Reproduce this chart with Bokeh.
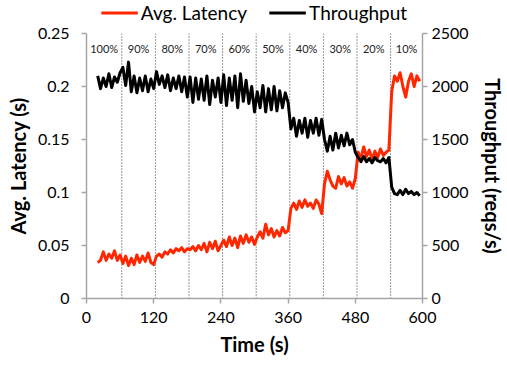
from bokeh.plotting import figure
from bokeh.layouts import column
from bokeh.models import (Range1d, LinearAxis, FixedTicker, CustomJSTickFormatter,
                          Legend, LegendItem, ColumnDataSource)
from bokeh.embed import file_html
from bokeh.resources import INLINE
from bokeh.core.properties import value

# ---- data -------------------------------------------------------------
time_s = list(range(20, 600, 5))

latency_s = [
    0.034, 0.036, 0.044, 0.036, 0.042, 0.038, 0.045, 0.036, 0.041,
    0.033, 0.040, 0.031, 0.038, 0.032, 0.041, 0.034, 0.040, 0.035, 0.043, 0.034, 0.032,
    0.040, 0.042, 0.039, 0.044, 0.042, 0.046, 0.043, 0.047, 0.045, 0.048, 0.044, 0.047,
    0.046, 0.049, 0.045, 0.050, 0.046, 0.052, 0.044, 0.053, 0.047, 0.054, 0.045, 0.050,
    0.055, 0.049, 0.058, 0.050, 0.057, 0.048, 0.059, 0.052, 0.060, 0.053, 0.058, 0.051,
    0.058, 0.063, 0.057, 0.070, 0.060, 0.066, 0.058, 0.064, 0.059, 0.067, 0.062, 0.064,
    0.085, 0.090, 0.084, 0.092, 0.086, 0.093, 0.087, 0.090, 0.085, 0.093, 0.089, 0.080,
    0.108, 0.120, 0.112, 0.106, 0.104, 0.115, 0.108, 0.114, 0.106, 0.110, 0.104, 0.113,
    0.138, 0.132, 0.143, 0.134, 0.140, 0.131, 0.139, 0.133, 0.141, 0.135, 0.138, 0.140,
    0.195, 0.210, 0.205, 0.213, 0.200, 0.190, 0.205, 0.212, 0.200, 0.210, 0.205,
]

throughput_rps = [
    2100, 1980, 2080, 2000, 2120, 1990, 2090, 2040, 2130,
    2180, 2010, 2230, 1950, 2100, 1940, 2080, 1960, 2100, 1950, 2070, 1980,
    2140, 2020, 2100, 1990, 2110, 1960, 2080, 1980, 2100, 1950, 2090, 1900,
    2090, 1850, 2080, 1880, 2070, 1870, 2100, 1830, 2060, 1900, 2080, 1850,
    2110, 1820, 2080, 1870, 2100, 1800, 2120, 1860, 2060, 1840, 2000, 1760,
    1950, 1800, 2010, 1760, 1980, 1780, 2000, 1770, 1960, 1800, 1940, 1850,
    1600, 1700, 1530, 1680, 1560, 1700, 1520, 1680, 1560, 1700, 1540, 1690,
    1500, 1390, 1530, 1400, 1560, 1420, 1540, 1440, 1560, 1450, 1500, 1380,
    1330, 1290, 1340, 1290, 1320, 1280, 1330, 1300, 1290, 1320, 1280, 1330,
    1050, 990, 980, 1020, 980, 1030, 990, 1010, 980, 1000, 970,
]

# load phases: boundaries (s) and the share of clients active in each
phase_bounds = [0, 63, 123, 183, 243, 303, 363, 423, 483, 543, 600]
phase_labels = ["100%", "90%", "80%", "70%", "60%", "50%", "40%", "30%", "20%", "10%"]

x_ticks = [0, 120, 240, 360, 480, 600]
lat_ticks = [0, 0.05, 0.1, 0.15, 0.2, 0.25]
tp_ticks = [0, 500, 1000, 1500, 2000, 2500]

# ---- styling ----------------------------------------------------------
FONT = "Lato"
AXIS_GREY = "#A6A6A6"
RED = "#FF2600"
W = 507
LEGEND_H = 24

src = ColumnDataSource(dict(t=time_s, lat=latency_s, tp=throughput_rps))

# ---- main chart -------------------------------------------------------
p = figure(width=W, height=366 - LEGEND_H, x_range=Range1d(0, 600), y_range=Range1d(0, 0.25),
           output_backend="svg", toolbar_location=None,
           min_border_left=86, min_border_right=84, min_border_top=9, min_border_bottom=68)
p.xgrid.visible = False
p.ygrid.visible = False
p.outline_line_color = None

p.extra_y_ranges = {"tp": Range1d(0, 2500)}
right_axis = LinearAxis(y_range_name="tp")
p.add_layout(right_axis, "right")


def style_axis(ax, ticks, title):
    ax.ticker = FixedTicker(ticks=ticks)
    ax.axis_label = title
    ax.axis_line_color = AXIS_GREY
    ax.axis_line_width = 1.5
    ax.major_tick_line_color = AXIS_GREY
    ax.major_tick_line_width = 1.5
    ax.major_tick_out = 5
    ax.major_tick_in = 0
    ax.minor_tick_out = 0
    ax.minor_tick_in = 0
    ax.major_label_text_font = FONT
    ax.major_label_text_font_size = "16px"
    ax.major_label_text_color = "#000000"
    ax.axis_label_text_font = FONT
    ax.axis_label_text_font_size = "20px"
    ax.axis_label_text_font_style = "bold"
    ax.axis_label_text_color = "#000000"


style_axis(p.xaxis[0], x_ticks, "Time (s)")
p.xaxis[0].major_label_standoff = 8
p.xaxis[0].axis_label_standoff = 6

style_axis(p.yaxis[0], lat_ticks, "Avg. Latency (s)")
p.yaxis[0].formatter = CustomJSTickFormatter(code="return String(Math.round(tick * 100) / 100);")
p.yaxis[0].major_label_standoff = 12
p.yaxis[0].axis_label_standoff = 5

style_axis(right_axis, tp_ticks, "Throughput (reqs/s)")
right_axis.major_label_standoff = 4
right_axis.axis_label_standoff = 9

# phase separators and phase labels
p.segment(x0=phase_bounds[1:-1], y0=0, x1=phase_bounds[1:-1], y1=0.25,
          line_color="#333333", line_width=1, line_dash="1 2")
mids = [(a + b) / 2 for a, b in zip(phase_bounds[:-1], phase_bounds[1:])]
p.text(x=mids, y=0.236, text=phase_labels, text_align="center", text_baseline="middle",
       text_font=value(FONT), text_font_size="11px", text_color="#222222")

# series
p.line("t", "lat", source=src, line_color=RED, line_width=3, line_join="round")
p.line("t", "tp", source=src, y_range_name="tp", line_color="#000000", line_width=3,
       line_join="round")

# ---- legend strip above the chart -------------------------------------
# the strip's own ranges keep its copies of the series out of view; only the
# legend keys are seen
lg = figure(width=W, height=LEGEND_H, x_range=Range1d(0, 1), y_range=Range1d(0, 1),
            output_backend="svg", toolbar_location=None, min_border=0)
lg.axis.visible = False
lg.xgrid.visible = False
lg.ygrid.visible = False
lg.outline_line_color = None
k_lat = lg.line("t", "lat", source=src, line_color=RED, line_width=3)
k_tp = lg.line("t", "tp", source=src, line_color="#000000", line_width=3)
legend = Legend(items=[LegendItem(label="Avg. Latency", renderers=[k_lat]),
                       LegendItem(label="Throughput", renderers=[k_tp])],
                orientation="horizontal", location="center",
                label_text_font=FONT, label_text_font_size="19px", label_text_color="#000000",
                glyph_width=37, glyph_height=20, spacing=22, padding=0, margin=0,
                label_standoff=3, border_line_color=None, background_fill_alpha=0)
lg.add_layout(legend, "center")

layout = column(lg, p, spacing=0)
open("out.html", "w").write(file_html(layout, INLINE))
